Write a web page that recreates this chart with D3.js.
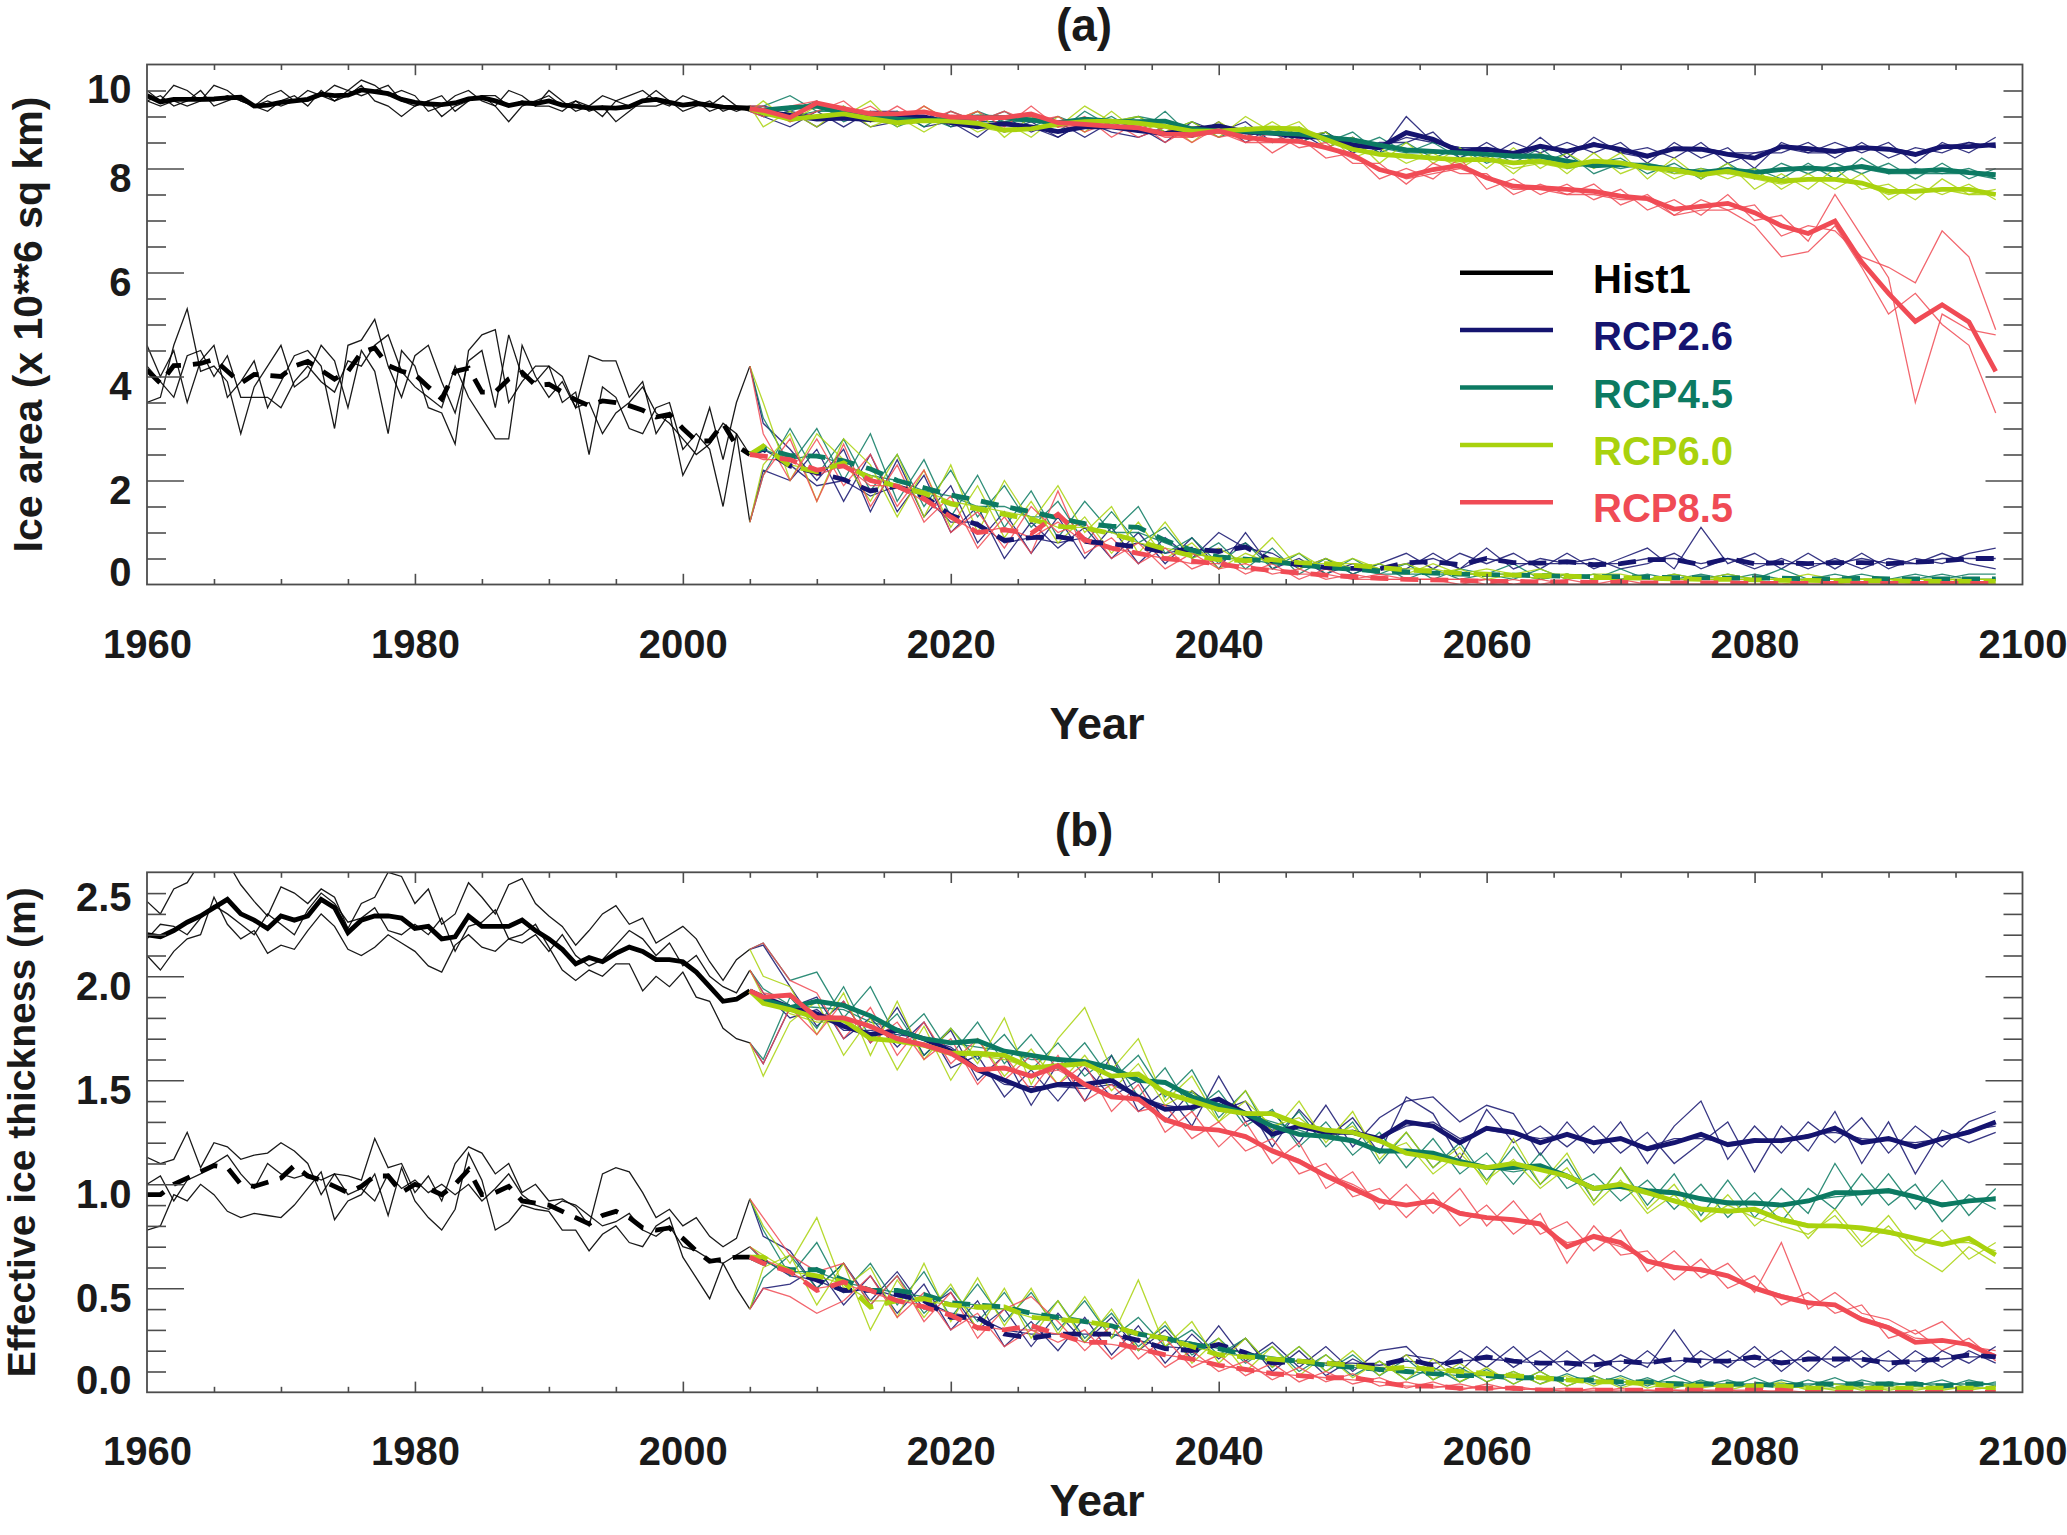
<!DOCTYPE html>
<html>
<head>
<meta charset="utf-8">
<script src="https://cdn.jsdelivr.net/npm/d3@7"></script>
<style>
body { margin: 0; background: #fff; }
text { font-family: "Liberation Sans", Arial, Helvetica, sans-serif; font-weight: bold; }
</style>
</head>
<body>
<svg id="fig" width="2067" height="1535"></svg>
<script>
// years: historical run is yearly, the scenario runs are read every 2 years
var histYears = d3.range(1960, 2006);
var rcpYears = [2005].concat(d3.range(2006, 2099, 2));

var seriesNames = ["Hist1", "RCP2.6", "RCP4.5", "RCP6.0", "RCP8.5"];
var seriesColors = ["#000000", "#15146f", "#0c7a62", "#a9d20d", "#f04b55"];

var xTickLabels = [1960, 1980, 2000, 2020, 2040, 2060, 2080, 2100];
var areaTickLabels = [0, 2, 4, 6, 8, 10];
var thickTickLabels = [0, 0.5, 1.0, 1.5, 2.0, 2.5];

// ---- (a) ice area, upper (winter maximum) ----
var areaMaxHist = [9.40,9.28,9.33,9.33,9.33,9.34,9.36,9.37,9.20,9.22,9.27,9.30,9.33,9.43,9.40,9.41,9.51,9.48,9.44,9.33,9.27,9.24,9.23,9.26,9.34,9.36,9.30,9.21,9.26,9.25,9.30,9.22,9.20,9.16,9.17,9.16,9.19,9.30,9.33,9.27,9.22,9.25,9.22,9.18,9.17,9.15];
var areaMaxHistRuns = [
  [9.5,9.3,9.6,9.5,9.3,9.6,9.5,9.3,9.2,9.4,9.5,9.3,9.5,9.4,9.6,9.5,9.7,9.6,9.4,9.5,9.4,9.1,9.2,9.4,9.5,9.3,9.2,9.5,9.4,9.2,9.5,9.3,9.1,9.2,9.4,9.3,9.4,9.5,9.3,9.2,9.4,9.3,9.2,9.4,9.2,9.1],
  [9.3,9.4,9.2,9.3,9.5,9.2,9.3,9.4,9.2,9.1,9.3,9.4,9.2,9.5,9.3,9.4,9.6,9.3,9.2,9.0,9.2,9.3,9.0,9.2,9.3,9.4,9.2,8.9,9.2,9.3,9.4,9.2,9.3,9.1,9.2,8.9,9.1,9.3,9.5,9.3,9.1,9.2,9.3,9.1,9.2,9.2],
  [9.3,9.2,9.3,9.2,9.3,9.3,9.4,9.3,9.2,9.3,9.2,9.3,9.3,9.4,9.3,9.5,9.4,9.5,9.6,9.3,9.2,9.3,9.4,9.1,9.3,9.4,9.4,9.2,9.3,9.2,9.2,9.1,9.3,9.2,9.0,9.3,9.2,9.2,9.2,9.3,9.2,9.3,9.1,9.2,9.1,9.2]
];
var areaMaxRcp26 = [9.15,9.10,9.02,8.95,8.97,8.94,9.00,8.99,8.88,8.80,8.86,8.80,8.71,8.80,8.80,8.73,8.67,8.75,8.82,8.70,8.68,8.62,8.60,8.45,8.40,8.69,8.56,8.33,8.37,8.29,8.43,8.33,8.46,8.37,8.24,8.38,8.37,8.27,8.20,8.42,8.38,8.33,8.40,8.37,8.27,8.42,8.42,8.46];
var areaMaxRcp26Runs = [
  [9.1,9.0,8.8,9.1,8.8,9.1,9.1,8.8,8.9,8.6,9.0,8.7,8.9,8.6,8.9,8.8,8.5,8.9,8.7,8.9,8.5,8.7,8.4,8.6,8.3,9.0,8.5,8.4,8.2,8.5,8.3,8.5,8.3,8.5,8.1,8.5,8.2,8.4,8.0,8.5,8.3,8.5,8.3,8.5,8.1,8.5,8.3,8.6],
  [9.2,9.2,9.1,8.8,9.1,8.8,8.9,9.1,8.8,8.9,8.7,8.9,8.6,8.9,8.7,8.6,8.8,8.6,8.9,8.5,8.8,8.5,8.7,8.3,8.5,8.5,8.7,8.2,8.5,8.2,8.6,8.2,8.6,8.3,8.4,8.2,8.5,8.1,8.3,8.3,8.5,8.2,8.5,8.2,8.4,8.3,8.5,8.4],
  [9.2,9.0,9.1,9.0,9.0,8.9,9.0,9.0,8.9,8.9,8.9,8.8,8.6,8.9,8.8,8.8,8.7,8.8,8.8,8.7,8.7,8.6,8.7,8.4,8.4,8.6,8.5,8.4,8.4,8.2,8.4,8.3,8.5,8.3,8.2,8.4,8.4,8.3,8.3,8.4,8.3,8.3,8.4,8.4,8.3,8.4,8.5,8.4]
];
var areaMaxRcp45 = [9.15,9.12,9.17,9.20,9.06,9.00,8.95,8.92,8.95,8.99,8.98,8.93,8.88,8.95,8.91,8.90,8.91,8.76,8.72,8.72,8.68,8.66,8.60,8.55,8.45,8.36,8.33,8.30,8.27,8.24,8.24,8.14,8.05,8.08,8.05,7.98,7.92,7.98,7.92,7.98,8.01,7.98,8.04,7.95,7.95,7.98,7.92,7.88];
var areaMaxRcp45Runs = [
  [9.1,9.2,9.4,9.1,9.2,8.9,9.1,8.8,9.1,8.9,9.1,8.8,9.0,8.8,9.0,8.7,9.1,8.6,8.8,8.6,8.8,8.5,8.7,8.4,8.6,8.3,8.5,8.2,8.4,8.1,8.4,8.0,8.1,8.2,7.9,8.1,7.8,8.1,7.8,8.1,7.9,8.1,7.9,8.1,7.8,8.1,7.8,8.0],
  [9.2,9.0,9.1,9.3,8.9,9.1,8.8,9.0,8.8,9.1,8.9,9.0,8.7,9.1,8.8,9.0,8.7,8.9,8.6,8.8,8.5,8.8,8.5,8.7,8.3,8.5,8.2,8.4,8.1,8.3,8.1,8.3,7.9,8.1,8.1,7.9,8.0,7.9,8.0,7.8,8.1,7.8,8.2,7.9,8.0,7.9,8.0,7.8],
  [9.2,9.1,9.0,9.1,9.1,8.9,9.0,8.9,9.0,8.9,8.9,8.9,8.9,8.9,8.9,9.0,8.9,8.8,8.7,8.7,8.7,8.6,8.6,8.5,8.4,8.3,8.3,8.3,8.3,8.2,8.2,8.1,8.1,8.0,8.1,8.0,7.9,8.0,7.9,8.0,8.0,8.0,8.0,7.9,7.9,7.9,7.9,7.8]
];
var areaMaxRcp60 = [9.15,9.07,8.95,9.00,9.05,8.96,8.88,8.92,8.91,8.87,8.74,8.76,8.86,8.90,8.91,8.87,8.81,8.72,8.72,8.75,8.78,8.75,8.56,8.37,8.27,8.24,8.20,8.17,8.17,8.11,8.14,8.05,8.14,8.11,8.01,7.98,7.88,7.95,7.85,7.76,7.79,7.79,7.72,7.56,7.56,7.60,7.60,7.50];
var areaMaxRcp60Runs = [
  [9.1,9.3,8.9,9.2,9.0,9.3,8.8,9.2,8.9,9.1,8.6,9.0,8.8,9.2,8.9,9.0,8.7,8.9,8.6,9.0,8.7,8.9,8.4,8.6,8.1,8.5,8.1,8.4,8.0,8.4,8.0,8.3,8.0,8.3,7.8,8.2,7.8,8.1,7.6,7.9,7.6,8.0,7.6,7.7,7.4,7.8,7.5,7.6],
  [9.2,8.8,9.1,8.8,9.2,8.8,9.0,8.7,9.0,8.7,8.9,8.6,9.0,8.7,9.1,8.7,8.9,8.5,8.9,8.6,8.9,8.6,8.7,8.2,8.4,8.1,8.3,8.0,8.3,7.9,8.3,7.9,8.3,7.9,8.1,7.8,8.0,7.8,8.0,7.6,7.9,7.6,7.9,7.4,7.7,7.5,7.7,7.4],
  [9.2,9.1,8.9,9.0,9.0,8.9,8.9,8.9,8.9,8.8,8.7,8.8,8.8,8.9,8.9,8.9,8.8,8.8,8.7,8.7,8.8,8.8,8.6,8.4,8.3,8.2,8.2,8.1,8.2,8.0,8.1,8.0,8.1,8.1,8.0,7.9,7.9,7.9,7.8,7.7,7.8,7.8,7.7,7.5,7.6,7.6,7.5,7.5]
];
var areaMaxRcp85 = [9.15,9.12,8.98,9.26,9.15,9.05,9.05,9.09,8.99,8.98,8.98,9.05,8.88,8.85,8.81,8.78,8.66,8.65,8.72,8.60,8.54,8.52,8.40,8.26,7.98,7.85,7.98,8.06,7.82,7.66,7.63,7.60,7.56,7.47,7.42,7.22,7.27,7.33,7.15,6.90,6.75,6.99,6.20,5.60,5.06,5.38,5.05,4.10];
var areaMaxRcp85Runs = [
  [9.1,9.0,9.2,9.3,9.0,9.2,8.9,9.2,8.9,9.1,8.8,9.2,8.8,9.0,8.6,8.9,8.5,8.8,8.6,8.7,8.3,8.6,8.2,8.3,7.8,8.0,7.8,8.2,7.6,7.8,7.5,7.7,7.4,7.6,7.2,7.4,7.1,7.5,7.0,7.1,6.6,7.5,6.7,5.9,3.5,5.2,4.9,4.8],
  [9.2,9.2,8.9,9.1,9.3,8.9,9.2,8.9,9.1,8.9,9.1,8.9,9.0,8.7,8.9,8.6,8.8,8.5,8.8,8.5,8.7,8.4,8.5,8.1,8.1,7.7,8.1,7.9,7.9,7.5,7.7,7.5,7.7,7.3,7.5,7.1,7.4,7.2,7.3,6.7,6.9,6.8,6.3,6.1,5.8,6.8,6.3,4.9],
  [9.2,9.1,9.0,9.2,9.1,9.1,9.0,9.1,9.0,8.9,9.0,9.0,8.8,8.8,8.8,8.8,8.6,8.6,8.7,8.5,8.5,8.5,8.4,8.2,8.0,7.8,7.9,8.0,7.8,7.6,7.6,7.5,7.5,7.4,7.4,7.1,7.2,7.2,6.9,6.3,6.4,6.9,6.1,5.2,5.6,5.0,4.6,3.3]
];

// ---- (a) ice area, lower (summer minimum) ----
var areaMinHist = [4.12,3.87,4.21,4.22,4.25,4.33,4.10,3.87,4.04,4.02,4.00,4.20,4.29,4.12,3.95,4.10,4.46,4.55,4.21,4.10,4.04,3.80,3.57,4.10,4.16,3.70,3.70,3.95,4.08,3.83,3.85,3.70,3.55,3.44,3.53,3.50,3.44,3.35,3.22,3.27,3.00,2.76,2.76,3.10,2.67,2.50];
var areaMinHistRuns = [
  [4.6,4.0,4.5,3.5,4.3,4.6,3.6,3.9,4.3,3.4,3.9,4.4,4.5,4.2,3.0,4.6,4.7,5.1,4.2,3.6,4.4,4.6,3.9,3.3,4.3,4.5,3.4,4.8,4.0,3.9,4.2,4.0,3.4,4.4,4.3,4.3,3.6,3.9,2.9,3.3,2.1,2.6,3.4,2.4,3.5,4.2],
  [3.5,3.6,4.6,5.3,4.1,4.2,3.9,2.9,3.8,4.2,4.6,3.8,4.0,4.6,4.3,3.4,4.5,4.1,2.9,4.5,4.2,3.4,3.3,2.7,4.5,4.8,4.9,3.5,3.9,4.2,4.2,3.5,3.7,2.5,3.8,3.6,3.0,2.9,3.4,3.5,2.6,2.9,2.6,1.5,2.9,1.2],
  [4.2,3.9,3.6,4.4,4.5,4.0,4.4,3.6,3.6,3.6,3.4,3.9,4.2,3.9,3.7,4.3,4.2,4.6,4.8,4.1,3.8,3.6,3.4,4.2,3.6,3.2,2.8,2.8,4.6,4.0,3.6,3.9,3.4,3.5,2.9,3.3,3.5,3.8,3.3,3.1,2.8,2.5,2.7,3.1,2.9,2.5]
];
var areaMinRcp26 = [2.50,2.60,2.28,2.15,2.02,1.80,1.89,1.70,1.33,1.15,0.85,0.90,0.92,0.83,0.78,0.72,0.63,0.68,0.64,0.72,0.45,0.38,0.33,0.31,0.30,0.42,0.44,0.38,0.50,0.42,0.41,0.44,0.38,0.40,0.48,0.48,0.38,0.50,0.40,0.42,0.40,0.42,0.42,0.40,0.43,0.45,0.50,0.50];
var areaMinRcp26Runs = [
  [4.2,3.1,2.6,2.0,2.6,1.4,2.4,1.3,1.9,0.8,1.4,0.6,1.3,0.5,1.1,0.4,0.9,0.5,1.0,0.7,0.6,0.3,0.5,0.2,0.4,0.6,0.3,0.6,0.4,0.6,0.3,0.6,0.3,0.5,0.7,0.3,1.1,0.4,0.6,0.3,0.6,0.3,0.6,0.3,0.5,0.4,0.6,0.7],
  [1.2,2.2,2.0,2.6,1.6,2.5,1.4,2.1,1.0,1.5,0.5,1.2,0.7,1.1,0.5,1.0,0.4,0.9,0.3,1.0,0.3,0.5,0.2,0.4,0.3,0.3,0.6,0.3,0.7,0.3,0.5,0.4,0.5,0.3,0.4,0.6,0.3,0.5,0.3,0.5,0.3,0.5,0.3,0.5,0.4,0.6,0.4,0.3],
  [2.5,2.6,2.3,1.9,2.0,1.7,1.9,1.7,1.2,1.2,0.8,0.9,0.8,0.9,0.7,0.8,0.6,0.7,0.6,0.8,0.4,0.4,0.3,0.3,0.3,0.4,0.5,0.3,0.5,0.4,0.4,0.4,0.4,0.4,0.5,0.5,0.4,0.5,0.4,0.4,0.4,0.4,0.5,0.4,0.4,0.5,0.5,0.5]
];
var areaMinRcp45 = [2.50,2.62,2.48,2.47,2.38,2.22,2.00,1.86,1.72,1.62,1.50,1.40,1.28,1.17,1.12,1.10,0.85,0.66,0.53,0.49,0.44,0.38,0.33,0.29,0.26,0.24,0.22,0.20,0.19,0.18,0.17,0.16,0.15,0.15,0.14,0.13,0.13,0.12,0.13,0.12,0.11,0.11,0.12,0.11,0.11,0.11,0.11,0.11];
var areaMinRcp45Runs = [
  [4.2,3.2,2.3,3.0,2.0,2.9,1.6,2.4,1.3,2.1,1.1,1.8,0.9,1.6,1.0,1.5,0.6,0.9,0.4,0.8,0.3,0.6,0.2,0.5,0.2,0.4,0.1,0.3,0.2,0.4,0.1,0.2,0.1,0.3,0.1,0.2,0.1,0.2,0.1,0.3,0.1,0.1,0.2,0.1,0.2,0.1,0.2,0.2],
  [1.2,2.1,3.0,2.1,2.8,1.8,2.5,1.5,2.2,1.3,1.9,1.1,1.6,0.8,1.4,0.8,1.1,0.5,0.8,0.3,0.7,0.2,0.5,0.2,0.4,0.1,0.3,0.1,0.2,0.1,0.3,0.1,0.2,0.1,0.2,0.1,0.2,0.1,0.2,0.1,0.1,0.2,0.1,0.1,0.1,0.2,0.1,0.1],
  [2.5,2.6,2.4,2.5,2.3,2.1,2.0,1.8,1.7,1.5,1.5,1.3,1.3,1.1,1.0,1.0,0.8,0.6,0.5,0.5,0.4,0.4,0.3,0.3,0.2,0.2,0.2,0.2,0.2,0.2,0.1,0.2,0.1,0.1,0.1,0.1,0.1,0.1,0.1,0.1,0.1,0.1,0.1,0.1,0.1,0.1,0.1,0.1]
];
var areaMinRcp60 = [2.50,2.66,2.28,2.17,2.34,2.03,1.89,1.75,1.55,1.45,1.35,1.25,1.12,1.09,0.98,0.83,0.68,0.55,0.48,0.46,0.48,0.42,0.40,0.37,0.33,0.28,0.25,0.22,0.20,0.18,0.17,0.16,0.14,0.13,0.12,0.11,0.10,0.10,0.09,0.08,0.08,0.07,0.07,0.07,0.06,0.06,0.06,0.06];
var areaMinRcp60Runs = [
  [4.2,3.5,2.0,2.9,2.4,1.6,2.5,1.3,2.3,1.0,2.0,1.2,1.9,1.0,1.5,0.6,1.2,0.5,0.7,0.4,0.9,0.3,0.5,0.3,0.4,0.2,0.4,0.2,0.3,0.2,0.3,0.1,0.2,0.2,0.1,0.2,0.1,0.2,0.1,0.1,0.2,0.1,0.1,0.1,0.1,0.1,0.1,0.1],
  [1.2,2.3,2.9,1.6,2.8,2.3,1.3,2.2,1.1,1.9,0.9,1.6,0.8,1.3,0.6,1.2,0.5,0.8,0.3,0.6,0.4,0.6,0.3,0.5,0.3,0.4,0.2,0.3,0.1,0.2,0.1,0.2,0.1,0.1,0.1,0.1,0.1,0.1,0.1,0.0,0.1,0.0,0.1,0.1,0.0,0.1,0.0,0.1],
  [2.5,2.7,2.3,2.2,2.3,2.1,1.9,1.8,1.6,1.5,1.4,1.3,1.1,1.1,1.0,0.8,0.7,0.6,0.5,0.5,0.5,0.4,0.4,0.4,0.3,0.3,0.3,0.2,0.2,0.2,0.2,0.2,0.1,0.1,0.1,0.1,0.1,0.1,0.1,0.1,0.1,0.1,0.1,0.1,0.1,0.1,0.1,0.1]
];
var areaMinRcp85 = [2.50,2.47,2.40,2.20,2.28,2.00,1.89,1.65,1.30,1.00,1.05,0.98,1.35,0.86,0.70,0.60,0.50,0.45,0.40,0.32,0.27,0.22,0.18,0.15,0.12,0.10,0.09,0.08,0.06,0.06,0.05,0.05,0.04,0.04,0.03,0.03,0.03,0.03,0.02,0.02,0.02,0.02,0.02,0.02,0.02,0.02,0.02,0.02];
var areaMinRcp85Runs = [
  [4.2,2.9,2.0,2.8,1.9,2.5,1.5,2.2,1.0,1.4,0.7,1.5,1.0,1.2,0.5,0.8,0.3,0.6,0.3,0.4,0.2,0.3,0.1,0.2,0.1,0.1,0.1,0.1,0.0,0.1,0.0,0.1,0.0,0.0,0.0,0.0,0.0,0.0,0.0,0.0,0.0,0.0,0.0,0.0,0.0,0.0,0.0,0.0],
  [1.2,2.1,2.8,1.6,2.7,1.5,2.3,1.2,1.7,0.7,1.3,0.6,1.8,0.6,0.9,0.4,0.7,0.3,0.5,0.2,0.4,0.1,0.3,0.1,0.2,0.1,0.1,0.0,0.1,0.0,0.1,0.0,0.0,0.1,0.0,0.0,0.0,0.0,0.0,0.0,0.0,0.0,0.0,0.0,0.0,0.0,0.0,0.0],
  [2.5,2.4,2.4,2.1,2.3,1.9,1.9,1.6,1.3,1.0,1.1,0.9,1.2,0.8,0.7,0.6,0.5,0.4,0.4,0.3,0.3,0.2,0.2,0.1,0.1,0.1,0.1,0.1,0.1,0.0,0.0,0.0,0.0,0.0,0.0,0.0,0.0,0.0,0.0,0.0,0.0,0.0,0.0,0.0,0.0,0.0,0.0,0.0]
];

// ---- (b) effective ice thickness, upper ----
var thickMaxHist = [2.20,2.19,2.22,2.26,2.29,2.33,2.37,2.30,2.27,2.23,2.29,2.27,2.29,2.37,2.33,2.21,2.27,2.29,2.29,2.28,2.23,2.24,2.18,2.19,2.29,2.24,2.24,2.24,2.27,2.22,2.18,2.13,2.06,2.09,2.07,2.11,2.14,2.12,2.08,2.08,2.07,2.02,1.95,1.88,1.89,1.93];
var thickMaxHistRuns = [
  [2.36,2.30,2.42,2.45,2.55,2.50,2.55,2.44,2.36,2.29,2.43,2.40,2.35,2.42,2.38,2.23,2.35,2.38,2.50,2.48,2.35,2.42,2.25,2.30,2.45,2.38,2.30,2.44,2.47,2.35,2.29,2.24,2.15,2.22,2.30,2.34,2.25,2.28,2.16,2.20,2.24,2.18,2.07,1.98,2.08,2.13],
  [2.10,2.03,2.12,2.18,2.20,2.38,2.25,2.18,2.22,2.11,2.15,2.13,2.22,2.30,2.24,2.13,2.10,2.14,2.20,2.16,2.12,2.05,2.02,2.15,2.20,2.14,2.12,2.18,2.20,2.25,2.14,2.03,1.98,2.03,2.00,2.06,2.06,1.93,2.00,1.95,2.02,1.90,1.88,1.75,1.70,1.68],
  [2.18,2.25,2.24,2.20,2.28,2.34,2.30,2.25,2.20,2.30,2.25,2.20,2.32,2.40,2.35,2.26,2.28,2.33,2.22,2.20,2.25,2.20,2.28,2.12,2.24,2.26,2.32,2.18,2.16,2.20,2.12,2.20,2.10,2.05,2.08,2.15,2.22,2.18,2.10,2.16,2.05,2.10,2.00,1.95,1.92,2.03]
];
var thickMaxRcp26 = [1.93,1.90,1.85,1.82,1.76,1.72,1.74,1.70,1.64,1.55,1.50,1.45,1.48,1.48,1.50,1.42,1.36,1.37,1.41,1.34,1.24,1.28,1.25,1.25,1.22,1.30,1.28,1.20,1.27,1.25,1.20,1.24,1.20,1.22,1.17,1.20,1.24,1.19,1.21,1.21,1.23,1.27,1.20,1.22,1.18,1.22,1.25,1.30];
var thickMaxRcp26Runs = [
  [2.13,2.15,1.95,1.76,1.88,1.68,1.85,1.62,1.74,1.50,1.62,1.38,1.58,1.40,1.62,1.35,1.45,1.28,1.52,1.30,1.35,1.20,1.38,1.18,1.32,1.40,1.42,1.30,1.38,1.34,1.14,1.30,1.15,1.30,1.10,1.28,1.40,1.12,1.28,1.15,1.30,1.20,1.32,1.15,1.28,1.18,1.30,1.35],
  [1.68,1.58,1.85,1.90,1.70,1.80,1.66,1.78,1.56,1.62,1.42,1.55,1.40,1.56,1.42,1.50,1.30,1.45,1.35,1.40,1.18,1.36,1.22,1.32,1.15,1.42,1.34,1.12,1.36,1.20,1.28,1.18,1.28,1.15,1.25,1.10,1.20,1.30,1.06,1.28,1.16,1.35,1.10,1.30,1.05,1.26,1.20,1.25],
  [2.03,1.92,1.80,1.84,1.74,1.74,1.72,1.70,1.66,1.56,1.48,1.47,1.47,1.46,1.48,1.42,1.38,1.36,1.40,1.34,1.26,1.28,1.24,1.26,1.22,1.28,1.30,1.22,1.26,1.24,1.22,1.24,1.20,1.22,1.18,1.22,1.22,1.20,1.22,1.20,1.24,1.25,1.22,1.21,1.20,1.22,1.26,1.28]
];
var thickMaxRcp45 = [1.93,1.89,1.85,1.88,1.86,1.81,1.74,1.70,1.68,1.69,1.64,1.62,1.60,1.59,1.56,1.50,1.49,1.42,1.38,1.34,1.28,1.24,1.23,1.21,1.16,1.16,1.15,1.11,1.08,1.08,1.09,1.04,0.98,0.99,0.97,0.96,0.93,0.91,0.91,0.90,0.92,0.96,0.96,0.97,0.94,0.90,0.92,0.93];
var thickMaxRcp45Runs = [
  [2.13,2.16,1.98,2.02,1.80,1.95,1.70,1.82,1.62,1.78,1.58,1.72,1.55,1.68,1.50,1.62,1.42,1.55,1.32,1.45,1.22,1.35,1.18,1.30,1.10,1.25,1.08,1.20,1.02,1.18,1.00,1.12,0.92,1.08,0.90,1.05,0.85,1.02,0.84,0.98,0.86,1.10,0.90,1.05,0.88,1.02,0.85,0.98],
  [1.68,1.60,1.90,1.75,1.95,1.70,1.82,1.62,1.75,1.60,1.72,1.55,1.68,1.52,1.62,1.42,1.56,1.35,1.45,1.28,1.36,1.18,1.30,1.14,1.25,1.08,1.22,1.05,1.15,1.00,1.15,0.98,1.05,0.92,1.02,0.88,1.00,0.84,0.96,0.82,0.98,0.88,1.05,0.90,1.00,0.82,0.95,0.88],
  [2.03,1.94,1.86,1.85,1.84,1.78,1.75,1.70,1.68,1.66,1.64,1.60,1.60,1.58,1.55,1.50,1.48,1.44,1.38,1.34,1.30,1.26,1.22,1.20,1.17,1.15,1.14,1.10,1.08,1.06,1.08,1.04,0.99,0.98,0.96,0.95,0.94,0.92,0.90,0.90,0.92,0.94,0.95,0.96,0.93,0.91,0.92,0.94]
];
var thickMaxRcp60 = [1.93,1.87,1.84,1.80,1.79,1.70,1.69,1.67,1.63,1.63,1.62,1.56,1.57,1.58,1.52,1.53,1.44,1.40,1.36,1.34,1.34,1.29,1.26,1.25,1.21,1.15,1.13,1.10,1.08,1.10,1.07,1.04,0.98,1.00,0.96,0.92,0.88,0.87,0.88,0.83,0.80,0.80,0.79,0.77,0.74,0.71,0.74,0.66];
var thickMaxRcp60Runs = [
  [2.13,2.00,1.95,1.72,1.92,1.62,1.88,1.60,1.75,1.58,1.80,1.48,1.70,1.85,1.55,1.70,1.40,1.52,1.30,1.45,1.25,1.40,1.20,1.35,1.12,1.25,1.08,1.18,1.00,1.22,1.00,1.15,0.92,1.08,0.88,1.00,0.82,0.95,0.80,0.90,0.74,0.88,0.72,0.85,0.68,0.78,0.64,0.72],
  [1.68,1.52,1.78,1.88,1.62,1.80,1.55,1.76,1.50,1.70,1.52,1.65,1.48,1.62,1.45,1.58,1.38,1.45,1.30,1.40,1.28,1.32,1.22,1.28,1.15,1.20,1.05,1.15,1.02,1.12,0.98,1.08,0.90,1.02,0.86,0.95,0.82,0.90,0.84,0.80,0.76,0.85,0.70,0.80,0.66,0.58,0.70,0.62],
  [2.03,1.90,1.82,1.78,1.78,1.72,1.68,1.66,1.62,1.62,1.60,1.56,1.56,1.58,1.52,1.52,1.45,1.40,1.36,1.35,1.33,1.28,1.26,1.24,1.20,1.16,1.14,1.11,1.09,1.08,1.07,1.03,0.99,0.98,0.95,0.93,0.89,0.88,0.87,0.84,0.81,0.80,0.78,0.76,0.74,0.72,0.72,0.68]
];
var thickMaxRcp85 = [1.93,1.90,1.91,1.80,1.80,1.76,1.70,1.67,1.63,1.55,1.56,1.52,1.57,1.48,1.42,1.41,1.31,1.27,1.26,1.23,1.16,1.11,1.04,0.98,0.92,0.90,0.92,0.86,0.84,0.83,0.81,0.70,0.75,0.72,0.63,0.60,0.59,0.56,0.50,0.46,0.43,0.42,0.35,0.31,0.24,0.25,0.23,0.17];
var thickMaxRcp85Runs = [
  [2.13,2.16,1.98,1.92,1.70,1.85,1.62,1.78,1.58,1.70,1.50,1.62,1.48,1.58,1.35,1.48,1.25,1.35,1.18,1.30,1.10,1.20,0.98,1.06,0.88,1.00,0.86,0.98,0.80,0.92,0.76,0.82,0.68,0.78,0.58,0.68,0.55,0.62,0.48,0.72,0.40,0.48,0.38,0.35,0.28,0.34,0.22,0.20],
  [1.68,1.58,1.85,1.72,1.88,1.68,1.78,1.60,1.70,1.48,1.62,1.45,1.62,1.40,1.48,1.35,1.38,1.22,1.30,1.16,1.22,1.05,1.10,0.94,0.98,0.84,0.96,0.80,0.90,0.76,0.86,0.62,0.80,0.66,0.68,0.54,0.64,0.50,0.56,0.42,0.48,0.38,0.42,0.26,0.30,0.20,0.26,0.15],
  [2.03,1.92,1.90,1.82,1.80,1.75,1.71,1.67,1.63,1.56,1.55,1.52,1.55,1.48,1.43,1.40,1.32,1.28,1.26,1.22,1.17,1.12,1.05,1.00,0.93,0.90,0.91,0.87,0.84,0.82,0.80,0.72,0.74,0.70,0.64,0.61,0.58,0.56,0.51,0.47,0.44,0.42,0.36,0.32,0.26,0.25,0.23,0.18]
];

// ---- (b) effective ice thickness, lower ----
var thickMinHist = [0.95,0.95,1.00,1.03,1.06,1.09,1.08,1.00,0.99,1.01,1.03,1.09,1.04,1.02,0.99,0.96,0.99,1.04,1.04,0.96,1.00,0.98,0.95,1.00,1.07,0.95,0.96,0.99,0.92,0.91,0.90,0.87,0.84,0.81,0.85,0.87,0.84,0.79,0.78,0.79,0.74,0.68,0.63,0.64,0.65,0.65];
var thickMinHistRuns = [
  [1.13,1.10,1.12,1.25,1.08,1.20,1.18,1.12,1.14,1.15,1.20,1.16,1.10,0.95,1.05,1.04,1.02,1.22,1.08,1.10,0.96,1.04,0.92,1.10,1.18,1.15,1.05,1.10,0.96,1.00,0.92,0.93,0.89,0.80,1.05,1.08,1.06,0.96,0.84,0.88,0.80,0.84,0.75,0.70,0.74,0.93],
  [0.78,0.80,0.95,0.92,1.00,0.95,0.87,0.84,0.86,0.85,0.84,0.90,0.98,1.06,0.83,0.92,0.95,1.05,0.85,1.08,0.92,0.84,0.78,0.88,1.15,1.02,0.78,0.82,0.90,0.88,0.87,0.78,0.78,0.68,0.76,0.80,0.72,0.70,0.80,0.84,0.65,0.55,0.45,0.62,0.50,0.40],
  [1.00,1.04,0.92,1.02,1.05,1.10,1.14,1.05,0.98,1.10,1.05,1.03,1.05,1.02,1.05,0.95,0.98,0.92,1.05,0.98,1.02,0.96,1.00,0.95,1.00,0.92,0.98,1.05,0.95,0.90,0.88,0.92,0.90,0.85,0.80,0.82,0.86,0.78,0.75,0.80,0.70,0.68,0.64,0.62,0.66,0.70]
];
var thickMinRcp26 = [0.65,0.63,0.58,0.54,0.49,0.49,0.47,0.44,0.36,0.36,0.28,0.26,0.28,0.28,0.28,0.25,0.21,0.20,0.23,0.19,0.14,0.15,0.14,0.13,0.13,0.16,0.13,0.15,0.17,0.15,0.14,0.14,0.13,0.15,0.14,0.16,0.15,0.15,0.17,0.14,0.16,0.16,0.16,0.14,0.15,0.16,0.18,0.17];
var thickMinRcp26Runs = [
  [0.93,0.75,0.68,0.50,0.62,0.44,0.58,0.40,0.48,0.30,0.40,0.22,0.38,0.24,0.36,0.20,0.30,0.16,0.32,0.15,0.24,0.12,0.22,0.10,0.20,0.22,0.10,0.20,0.12,0.22,0.10,0.20,0.10,0.18,0.12,0.30,0.12,0.20,0.12,0.20,0.10,0.22,0.12,0.20,0.10,0.20,0.14,0.22],
  [0.40,0.50,0.52,0.60,0.42,0.56,0.38,0.52,0.30,0.44,0.22,0.34,0.20,0.36,0.18,0.32,0.14,0.28,0.16,0.26,0.10,0.20,0.08,0.16,0.10,0.18,0.16,0.10,0.22,0.12,0.20,0.10,0.18,0.10,0.20,0.10,0.20,0.12,0.22,0.10,0.20,0.12,0.20,0.10,0.20,0.12,0.20,0.14],
  [0.70,0.64,0.56,0.54,0.48,0.50,0.46,0.44,0.38,0.36,0.30,0.28,0.28,0.28,0.28,0.25,0.22,0.21,0.22,0.19,0.15,0.15,0.14,0.14,0.13,0.15,0.14,0.15,0.16,0.15,0.14,0.15,0.14,0.15,0.14,0.15,0.16,0.15,0.16,0.15,0.16,0.16,0.16,0.15,0.15,0.16,0.17,0.17]
];
var thickMinRcp45 = [0.65,0.62,0.59,0.59,0.54,0.49,0.49,0.47,0.43,0.42,0.41,0.38,0.36,0.34,0.32,0.28,0.26,0.23,0.21,0.18,0.16,0.15,0.13,0.12,0.11,0.10,0.09,0.08,0.08,0.07,0.07,0.06,0.06,0.05,0.05,0.04,0.04,0.04,0.04,0.03,0.04,0.04,0.04,0.04,0.04,0.03,0.04,0.04];
var thickMinRcp45Runs = [
  [0.93,0.78,0.56,0.72,0.48,0.62,0.42,0.58,0.36,0.52,0.34,0.48,0.30,0.44,0.26,0.36,0.22,0.30,0.18,0.26,0.12,0.22,0.10,0.18,0.08,0.16,0.06,0.12,0.05,0.10,0.04,0.09,0.04,0.08,0.03,0.08,0.03,0.06,0.02,0.06,0.03,0.07,0.02,0.05,0.03,0.06,0.02,0.05],
  [0.40,0.55,0.66,0.50,0.62,0.42,0.56,0.38,0.50,0.34,0.48,0.30,0.44,0.26,0.38,0.22,0.32,0.18,0.26,0.14,0.22,0.10,0.18,0.08,0.15,0.06,0.12,0.05,0.11,0.04,0.10,0.03,0.08,0.03,0.07,0.02,0.06,0.02,0.07,0.02,0.06,0.02,0.06,0.03,0.05,0.02,0.06,0.03],
  [0.70,0.63,0.58,0.58,0.53,0.50,0.48,0.46,0.43,0.42,0.40,0.38,0.36,0.34,0.32,0.29,0.26,0.24,0.21,0.19,0.17,0.15,0.13,0.12,0.11,0.10,0.09,0.08,0.08,0.07,0.07,0.06,0.06,0.05,0.05,0.05,0.04,0.04,0.04,0.04,0.04,0.04,0.04,0.04,0.04,0.04,0.04,0.04]
];
var thickMinRcp60 = [0.65,0.65,0.58,0.56,0.53,0.41,0.44,0.45,0.42,0.41,0.41,0.36,0.35,0.34,0.32,0.28,0.26,0.22,0.18,0.17,0.16,0.15,0.14,0.13,0.11,0.12,0.11,0.10,0.09,0.08,0.07,0.06,0.05,0.05,0.04,0.03,0.03,0.03,0.03,0.03,0.02,0.02,0.02,0.02,0.02,0.02,0.02,0.02];
var thickMinRcp60Runs = [
  [0.93,0.80,0.62,0.84,0.50,0.60,0.36,0.62,0.34,0.55,0.32,0.50,0.28,0.46,0.26,0.54,0.22,0.34,0.14,0.26,0.12,0.22,0.10,0.20,0.08,0.18,0.06,0.14,0.05,0.10,0.04,0.08,0.03,0.07,0.02,0.05,0.02,0.04,0.02,0.05,0.01,0.04,0.01,0.03,0.01,0.03,0.01,0.03],
  [0.40,0.60,0.66,0.42,0.62,0.30,0.54,0.36,0.52,0.30,0.50,0.26,0.44,0.24,0.40,0.20,0.34,0.14,0.26,0.10,0.22,0.08,0.18,0.07,0.15,0.06,0.16,0.05,0.12,0.04,0.10,0.03,0.08,0.02,0.06,0.02,0.05,0.01,0.04,0.02,0.03,0.01,0.03,0.01,0.03,0.01,0.03,0.01],
  [0.70,0.66,0.58,0.56,0.52,0.44,0.44,0.44,0.42,0.40,0.40,0.36,0.35,0.34,0.32,0.29,0.26,0.22,0.19,0.17,0.16,0.15,0.14,0.13,0.12,0.12,0.11,0.10,0.09,0.08,0.07,0.06,0.05,0.05,0.04,0.03,0.03,0.03,0.03,0.03,0.02,0.02,0.02,0.02,0.02,0.02,0.02,0.02]
];
var thickMinRcp85 = [0.65,0.62,0.58,0.49,0.53,0.49,0.44,0.41,0.37,0.31,0.30,0.32,0.28,0.24,0.24,0.21,0.18,0.16,0.13,0.11,0.09,0.08,0.07,0.07,0.05,0.03,0.03,0.02,0.02,0.02,0.01,0.01,0.01,0.01,0.01,0.01,0.01,0.01,0.01,0.01,0.00,0.00,0.00,0.00,0.00,0.00,0.00,0.00];
var thickMinRcp85Runs = [
  [0.93,0.84,0.66,0.58,0.62,0.42,0.56,0.34,0.48,0.26,0.40,0.46,0.34,0.20,0.32,0.16,0.26,0.12,0.18,0.08,0.14,0.05,0.10,0.04,0.07,0.02,0.05,0.01,0.04,0.01,0.02,0.00,0.02,0.00,0.01,0.00,0.01,0.00,0.01,0.00,0.00,0.00,0.00,0.00,0.00,0.00,0.00,0.00],
  [0.40,0.50,0.46,0.38,0.44,0.56,0.36,0.48,0.30,0.38,0.22,0.30,0.24,0.30,0.16,0.26,0.12,0.20,0.10,0.15,0.06,0.12,0.05,0.09,0.03,0.05,0.02,0.04,0.01,0.03,0.01,0.02,0.00,0.02,0.00,0.01,0.00,0.01,0.00,0.01,0.00,0.00,0.00,0.00,0.00,0.00,0.00,0.00],
  [0.70,0.64,0.58,0.50,0.52,0.48,0.44,0.42,0.38,0.32,0.30,0.30,0.28,0.24,0.23,0.21,0.18,0.16,0.13,0.11,0.09,0.08,0.07,0.06,0.05,0.03,0.03,0.02,0.02,0.02,0.01,0.01,0.01,0.01,0.01,0.01,0.01,0.01,0.01,0.00,0.00,0.00,0.00,0.00,0.00,0.00,0.00,0.00]
];

// layout
var left = 147, right = 2022.5;
var axisColor = "#4d4d4d";
var textColor = "#1a1a1a";

var panels = [
  {
    top: 64.5, bottom: 584.5, domain: [0, 10],
    labels: areaTickLabels, majors: [2, 4, 6, 8],
    minors: d3.range(1, 20).filter(k => k % 4 != 0).map(k => k * 0.5),
    format: d3.format("d"),
    title: "(a)", titleY: 41, yearY: 739,
    yTitle: "Ice area (x 10**6 sq km)", yTitleX: 42, yTitleSize: 41,
    groups: [
      { dashed: false, hist: areaMaxHist, histRuns: areaMaxHistRuns,
        rcp: [areaMaxRcp26, areaMaxRcp45, areaMaxRcp60, areaMaxRcp85],
        rcpRuns: [areaMaxRcp26Runs, areaMaxRcp45Runs, areaMaxRcp60Runs, areaMaxRcp85Runs] },
      { dashed: true, hist: areaMinHist, histRuns: areaMinHistRuns,
        rcp: [areaMinRcp26, areaMinRcp45, areaMinRcp60, areaMinRcp85],
        rcpRuns: [areaMinRcp26Runs, areaMinRcp45Runs, areaMinRcp60Runs, areaMinRcp85Runs] }
    ]
  },
  {
    top: 872.3, bottom: 1392.3, domain: [0, 2.5],
    labels: thickTickLabels, majors: [0.5, 1.0, 1.5, 2.0],
    minors: d3.range(1, 25).filter(k => k % 5 != 0).map(k => k * 0.1),
    format: d3.format(".1f"),
    title: "(b)", titleY: 846, yearY: 1516,
    yTitle: "Effective ice thickness (m)", yTitleX: 35, yTitleSize: 39,
    groups: [
      { dashed: false, hist: thickMaxHist, histRuns: thickMaxHistRuns,
        rcp: [thickMaxRcp26, thickMaxRcp45, thickMaxRcp60, thickMaxRcp85],
        rcpRuns: [thickMaxRcp26Runs, thickMaxRcp45Runs, thickMaxRcp60Runs, thickMaxRcp85Runs] },
      { dashed: true, hist: thickMinHist, histRuns: thickMinHistRuns,
        rcp: [thickMinRcp26, thickMinRcp45, thickMinRcp60, thickMinRcp85],
        rcpRuns: [thickMinRcp26Runs, thickMinRcp45Runs, thickMinRcp60Runs, thickMinRcp85Runs] }
    ]
  }
];

var svg = d3.select("#fig");
var x = d3.scaleLinear([1960, 2100], [left, right]);

function tickAxis(g, axis) {
  g.call(axis);
  g.select(".domain").remove();
  g.attr("color", axisColor);
  g.selectAll("line").attr("stroke-width", 1.6);
}

panels.forEach(function(p, pi) {
  var y = d3.scaleLinear(p.domain, [p.bottom, p.top]);

  svg.append("clipPath").attr("id", "clip" + pi)
    .append("rect")
    .attr("x", left).attr("y", p.top)
    .attr("width", right - left).attr("height", p.bottom - p.top);

  var plot = svg.append("g").attr("clip-path", "url(#clip" + pi + ")");

  var histLine = d3.line().x((d, i) => x(histYears[i])).y(d => y(d));
  var rcpLine = d3.line().x((d, i) => x(rcpYears[i])).y(d => y(d));

  // thin lines: the single runs
  p.groups.forEach(function(g) {
    g.histRuns.forEach(function(run) {
      plot.append("path").attr("d", histLine(run))
        .attr("fill", "none").attr("stroke", seriesColors[0])
        .attr("stroke-width", 1.3).attr("stroke-opacity", 0.9);
    });
    g.rcpRuns.forEach(function(runs, s) {
      runs.forEach(function(run) {
        plot.append("path").attr("d", rcpLine(run))
          .attr("fill", "none").attr("stroke", seriesColors[s + 1])
          .attr("stroke-width", 1.3).attr("stroke-opacity", 0.85);
      });
    });
  });

  // thick lines: ensemble means
  p.groups.forEach(function(g) {
    var dash = g.dashed ? "18,12" : null;
    plot.append("path").attr("d", histLine(g.hist))
      .attr("fill", "none").attr("stroke", seriesColors[0])
      .attr("stroke-width", 4.8).attr("stroke-dasharray", dash);
    g.rcp.forEach(function(mean, s) {
      plot.append("path").attr("d", rcpLine(mean))
        .attr("fill", "none").attr("stroke", seriesColors[s + 1])
        .attr("stroke-width", 4.8).attr("stroke-dasharray", dash);
    });
  });

  // frame
  svg.append("rect")
    .attr("x", left).attr("y", p.top)
    .attr("width", right - left).attr("height", p.bottom - p.top)
    .attr("fill", "none").attr("stroke", axisColor).attr("stroke-width", 1.8);

  // x ticks (inward, both sides)
  var xMajor = d3.range(1980, 2100, 20);
  var xMinor = d3.range(1965, 2100, 5).filter(v => v % 20 != 0);
  tickAxis(svg.append("g").attr("transform", "translate(0," + p.bottom + ")"),
    d3.axisBottom(x).tickValues(xMajor).tickSizeInner(-10.7).tickSizeOuter(0).tickFormat(""));
  tickAxis(svg.append("g").attr("transform", "translate(0," + p.bottom + ")"),
    d3.axisBottom(x).tickValues(xMinor).tickSizeInner(-5.5).tickSizeOuter(0).tickFormat(""));
  tickAxis(svg.append("g").attr("transform", "translate(0," + p.top + ")"),
    d3.axisTop(x).tickValues(xMajor).tickSizeInner(-10.7).tickSizeOuter(0).tickFormat(""));
  tickAxis(svg.append("g").attr("transform", "translate(0," + p.top + ")"),
    d3.axisTop(x).tickValues(xMinor).tickSizeInner(-5.5).tickSizeOuter(0).tickFormat(""));

  // y ticks (inward, both sides)
  tickAxis(svg.append("g").attr("transform", "translate(" + left + ",0)"),
    d3.axisLeft(y).tickValues(p.majors).tickSizeInner(-37).tickSizeOuter(0).tickFormat(""));
  tickAxis(svg.append("g").attr("transform", "translate(" + left + ",0)"),
    d3.axisLeft(y).tickValues(p.minors).tickSizeInner(-19).tickSizeOuter(0).tickFormat(""));
  tickAxis(svg.append("g").attr("transform", "translate(" + right + ",0)"),
    d3.axisRight(y).tickValues(p.majors).tickSizeInner(-37).tickSizeOuter(0).tickFormat(""));
  tickAxis(svg.append("g").attr("transform", "translate(" + right + ",0)"),
    d3.axisRight(y).tickValues(p.minors).tickSizeInner(-19).tickSizeOuter(0).tickFormat(""));

  // x labels
  var xLab = svg.append("g").attr("transform", "translate(0," + p.bottom + ")")
    .call(d3.axisBottom(x).tickValues(xTickLabels).tickSize(0).tickFormat(d3.format("d")));
  xLab.select(".domain").remove();
  xLab.selectAll("text").attr("y", 73).attr("dy", null)
    .attr("fill", textColor).attr("font-size", 40);

  // y labels (the end labels sit inside the frame, as in IDL output)
  var yLab = svg.append("g").attr("transform", "translate(" + left + ",0)")
    .call(d3.axisLeft(y).tickValues(p.labels).tickSize(0).tickPadding(15.5).tickFormat(p.format));
  yLab.select(".domain").remove();
  yLab.selectAll("text").attr("dy", null)
    .attr("y", d => d === p.domain[1] ? 38 : (d === 0 ? 1 : 23))
    .attr("fill", textColor).attr("font-size", 40);

  // titles
  svg.append("text").attr("x", 1084).attr("y", p.titleY)
    .attr("text-anchor", "middle").attr("font-size", 46).attr("fill", textColor)
    .text(p.title);
  svg.append("text").attr("x", 1097).attr("y", p.yearY)
    .attr("text-anchor", "middle").attr("font-size", 45).attr("fill", textColor)
    .text("Year");
  svg.append("text")
    .attr("transform", "translate(" + p.yTitleX + "," + ((p.top + p.bottom) / 2) + ") rotate(-90)")
    .attr("text-anchor", "middle").attr("font-size", p.yTitleSize).attr("fill", textColor)
    .text(p.yTitle);
});

// legend (panel a)
var legend = svg.append("g");
seriesNames.forEach(function(name, i) {
  var ly = 272.7 + i * 57.4;
  legend.append("line")
    .attr("x1", 1460).attr("x2", 1553).attr("y1", ly).attr("y2", ly)
    .attr("stroke", seriesColors[i]).attr("stroke-width", 4.5);
  legend.append("text")
    .attr("x", 1593).attr("y", ly + 20)
    .attr("font-size", 40).attr("fill", seriesColors[i])
    .text(name);
});
</script>
</body>
</html>
